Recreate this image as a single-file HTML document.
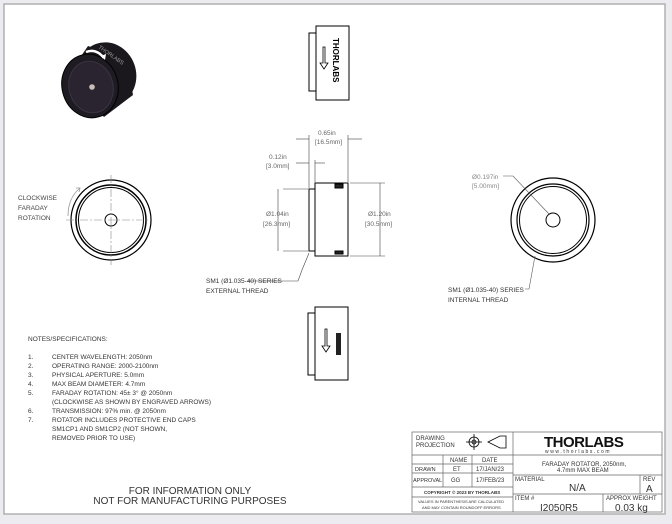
<!DOCTYPE html>
<html><head><meta charset="utf-8"><style>
html,body{margin:0;padding:0;background:#ececf0;}
svg{display:block;}
text{font-family:"Liberation Sans",sans-serif;}
</style></head><body>
<svg width="672" height="524" viewBox="0 0 672 524" xmlns="http://www.w3.org/2000/svg">
<rect x="0" y="0" width="672" height="524" fill="#ececf0"/>
<rect x="4" y="4" width="661" height="510" fill="#fff" stroke="#b0b0b0" stroke-width="1.5"/>

<!-- 3D view -->
<g>
<ellipse cx="107" cy="74" rx="29" ry="32" fill="#1a181c" transform="rotate(-20 107 74)"/>
<path d="M66 78 L88 46 L127 60 L133 95 L104 117 Z" fill="#1a181c"/>
<ellipse cx="90" cy="86" rx="28" ry="32" fill="#1e1b22" stroke="#000" transform="rotate(-15 90 86)"/>
<ellipse cx="91" cy="87" rx="22" ry="26" fill="#2a2430" stroke="#3a3340" transform="rotate(-15 91 87)"/>
<circle cx="92" cy="87" r="2.8" fill="#c8c0b8"/>
<path d="M86 52 Q96 48 104 58" stroke="#fff" stroke-width="2.5" fill="none"/>
<path d="M101 56 L105 60 L106 54 Z" fill="#fff"/>
<text x="98" y="48" font-size="5.5" fill="#999" transform="rotate(35 98 48)">THORLABS</text>
</g>

<!-- top view -->
<g stroke="#000" fill="#fff" stroke-width="1">
<rect x="309" y="33" width="7" height="58"/>
<rect x="316" y="26" width="33" height="74"/>
</g>
<text x="333" y="38" font-size="8" font-weight="bold" transform="rotate(90 333 38)">THORLABS</text>
<path d="M323 47 v16 h-3 l4 6 l4 -6 h-3 v-16 z" fill="#fff" stroke="#000" stroke-width="0.8"/>

<!-- side view -->
<g stroke="#000" fill="#fff" stroke-width="1">
<rect x="309" y="189" width="6" height="62"/>
<rect x="315" y="183" width="33" height="73"/>
<rect x="335" y="184" width="8" height="4" fill="#222"/>
<rect x="335" y="251" width="8" height="3" fill="#222"/>
</g>
<g stroke="#444" stroke-width="0.6" fill="none">
<line x1="309" y1="135" x2="309" y2="188"/><line x1="348" y1="135" x2="348" y2="182"/>
<line x1="296" y1="139" x2="309" y2="139"/><line x1="348" y1="139" x2="362" y2="139"/>
<line x1="315" y1="160" x2="315" y2="182"/>
<line x1="296" y1="163" x2="309" y2="163"/><line x1="315" y1="163" x2="325" y2="163"/>
<line x1="283" y1="189" x2="308" y2="189"/><line x1="283" y1="251" x2="308" y2="251"/>
<line x1="278" y1="189" x2="278" y2="251"/>
<line x1="350" y1="183" x2="385" y2="183"/><line x1="350" y1="256" x2="385" y2="256"/>
<line x1="380" y1="183" x2="380" y2="256"/>
<polyline points="248,281 298,281 302,270 309,253"/>
</g>
<g font-size="6.5" fill="#666">
<text x="318" y="135">0.65in</text><text x="315" y="144">[16.5mm]</text>
<text x="269" y="159">0.12in</text><text x="266" y="168">[3.0mm]</text>
<text x="266" y="216">Ø1.04in</text><text x="263" y="226">[26.3mm]</text>
<text x="368" y="216">Ø1.20in</text><text x="365" y="226">[30.5mm]</text>
</g>
<g font-size="6.5" fill="#333">
<text x="206" y="283">SM1 (Ø1.035-40) SERIES</text>
<text x="206" y="293">EXTERNAL THREAD</text>
</g>

<!-- left circle -->
<g stroke="#000" fill="none">
<circle cx="111" cy="220" r="40" stroke-width="1.2"/>
<circle cx="111" cy="220" r="35" stroke-width="1.5"/>
<circle cx="111" cy="220" r="32.5" stroke-width="1"/>
<circle cx="111" cy="220" r="6" stroke-width="1"/>
</g>
<g stroke="#888" stroke-width="0.6" stroke-dasharray="8 2 2 2">
<line x1="66" y1="220" x2="150" y2="220"/><line x1="111" y1="175" x2="111" y2="265"/>
</g>
<path d="M68 216 Q68 198 80 188" stroke="#999" stroke-width="0.8" fill="none"/>
<path d="M76 188 L80 188 L79 192" stroke="#999" stroke-width="0.8" fill="none"/>
<g font-size="6.5" fill="#444"><text x="18" y="200">CLOCKWISE</text><text x="18" y="210">FARADAY</text><text x="18" y="220">ROTATION</text></g>

<!-- right circle -->
<g stroke="#000" fill="none">
<circle cx="553" cy="220" r="42" stroke-width="1.2"/>
<circle cx="553" cy="220" r="36" stroke-width="1.2"/>
<circle cx="553" cy="220" r="33.5" stroke-width="1"/>
<circle cx="553" cy="220" r="7" stroke-width="1"/>
</g>
<g stroke="#555" stroke-width="0.6" fill="none">
<polyline points="503,176 513,176 549,214"/>
<polyline points="525,289 529,289 535,256"/>
</g>
<g font-size="6.5" fill="#888"><text x="472" y="179">Ø0.197in</text><text x="472" y="188">[5.00mm]</text></g>
<g font-size="6.5" fill="#333"><text x="448" y="292">SM1 (Ø1.035-40) SERIES</text><text x="448" y="302">INTERNAL THREAD</text></g>

<!-- bottom view -->
<g stroke="#000" fill="#fff" stroke-width="1">
<rect x="308" y="313" width="7" height="62"/>
<rect x="315" y="307" width="33" height="73"/>
</g>
<rect x="336" y="333" width="5" height="22" fill="#222"/>
<path d="M325 329 v17 h-3 l4 6 l4 -6 h-3 v-17 z" fill="#fff" stroke="#000" stroke-width="0.8"/>

<!-- notes -->
<g font-size="6.5" fill="#333">
<text x="28" y="341">NOTES/SPECIFICATIONS:</text>
<text x="28" y="359">1.</text><text x="52" y="359">CENTER WAVELENGTH: 2050nm</text>
<text x="28" y="368">2.</text><text x="52" y="368">OPERATING RANGE: 2000-2100nm</text>
<text x="28" y="377">3.</text><text x="52" y="377">PHYSICAL APERTURE: 5.0mm</text>
<text x="28" y="386">4.</text><text x="52" y="386">MAX BEAM DIAMETER: 4.7mm</text>
<text x="28" y="395">5.</text><text x="52" y="395">FARADAY ROTATION: 45± 3° @ 2050nm</text>
<text x="52" y="404">(CLOCKWISE AS SHOWN BY ENGRAVED ARROWS)</text>
<text x="28" y="413">6.</text><text x="52" y="413">TRANSMISSION: 97% min. @ 2050nm</text>
<text x="28" y="422">7.</text><text x="52" y="422">ROTATOR INCLUDES PROTECTIVE END CAPS</text>
<text x="52" y="431">SM1CP1 AND SM1CP2 (NOT SHOWN,</text>
<text x="52" y="440">REMOVED PRIOR TO USE)</text>
</g>
<g font-size="10" fill="#333" text-anchor="middle">
<text x="190" y="494">FOR INFORMATION ONLY</text>
<text x="190" y="504">NOT FOR MANUFACTURING PURPOSES</text>
</g>

<!-- title block -->
<g stroke="#666" stroke-width="0.7" fill="none">
<rect x="412" y="432" width="250" height="80"/>
<line x1="513" y1="432" x2="513" y2="512"/>
<line x1="412" y1="455" x2="513" y2="455"/>
<line x1="412" y1="464" x2="513" y2="464"/>
<line x1="412" y1="473" x2="513" y2="473"/>
<line x1="412" y1="487" x2="513" y2="487"/>
<line x1="412" y1="497" x2="513" y2="497"/>
<line x1="443" y1="455" x2="443" y2="487"/>
<line x1="472" y1="455" x2="472" y2="487"/>
<line x1="513" y1="455" x2="662" y2="455"/>
<line x1="513" y1="475" x2="662" y2="475"/>
<line x1="513" y1="494" x2="662" y2="494"/>
<line x1="640" y1="475" x2="640" y2="494"/>
<line x1="603" y1="494" x2="603" y2="512"/>
</g>
<g stroke="#000" fill="none" stroke-width="0.8">
<circle cx="474" cy="442" r="5"/><circle cx="474" cy="442" r="2"/>
<line x1="466" y1="442" x2="482" y2="442"/><line x1="474" y1="434" x2="474" y2="450"/>
<path d="M488 442 L500 436 L506 436 L506 448 L500 448 Z"/>
</g>
<g font-size="6" fill="#333">
<text x="416" y="440">DRAWING</text><text x="416" y="447">PROJECTION</text>
<text x="450" y="462">NAME</text><text x="482" y="462">DATE</text>
<text x="415" y="471" font-size="5.5">DRAWN</text><text x="453" y="471">ET</text><text x="476" y="471">17/JAN/23</text>
<text x="413" y="482" font-size="5.5">APPROVAL</text><text x="451" y="482">GG</text><text x="476" y="482">17/FEB/23</text>
<text x="424" y="494" font-size="4.5" font-weight="bold">COPYRIGHT © 2023 BY THORLABS</text>
<text x="418" y="503" font-size="4">VALUES IN PARENTHESIS ARE CALCULATED</text>
<text x="422" y="509" font-size="4">AND MAY CONTAIN ROUNDOFF ERRORS</text>
<text x="542" y="466">FARADAY ROTATOR, 2050nm,</text>
<text x="557" y="472">4.7mm MAX BEAM</text>
<text x="515" y="481">MATERIAL</text>
<text x="643" y="481">REV</text>
<text x="515" y="500">ITEM #</text>
<text x="606" y="500">APPROX WEIGHT</text>
</g>
<text x="544" y="447" font-size="15" font-weight="bold" fill="#111" letter-spacing="-0.5">THORLABS</text>
<text x="545" y="453" font-size="5" fill="#333" letter-spacing="1.6">www.thorlabs.com</text>
<g font-size="10" fill="#333">
<text x="569" y="491">N/A</text>
<text x="646" y="492">A</text>
<text x="540" y="511">I2050R5</text>
<text x="615" y="511">0.03 kg</text>
</g>
</svg>
</body></html>
